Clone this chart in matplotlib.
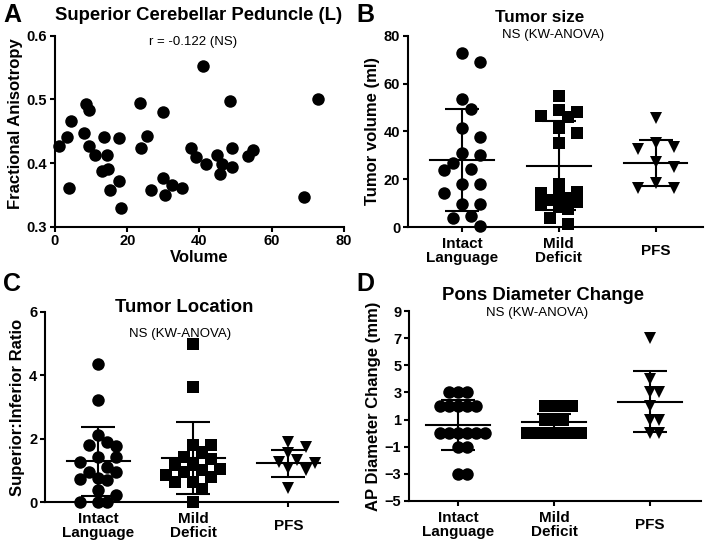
import numpy as np
import matplotlib
matplotlib.use("Agg")
import matplotlib.pyplot as plt

plt.rcParams['font.family'] = ['Liberation Sans', 'DejaVu Sans']

# ---- data ----
# A: scatter
volume = [1.2, 3.4, 4.0, 4.5, 7.9, 8.6, 9.4, 9.3, 11.1, 13.5, 13.0, 14.3, 14.6, 15.3,
          17.6, 17.7, 18.2, 23.6, 23.7, 25.5, 26.7, 30.0, 30.0, 30.4, 32.4, 35.2,
          41.0, 37.7, 38.9, 41.7, 44.9, 45.7, 46.3, 48.4, 48.9, 49.1, 53.4, 54.7,
          69.0, 72.8]
fa = [0.427, 0.441, 0.360, 0.466, 0.447, 0.493, 0.484, 0.426, 0.413, 0.441, 0.388,
      0.412, 0.390, 0.357, 0.371, 0.440, 0.330, 0.494, 0.424, 0.443, 0.357, 0.480,
      0.376, 0.349, 0.366, 0.361, 0.553, 0.424, 0.409, 0.399, 0.413, 0.383, 0.398,
      0.497, 0.424, 0.394, 0.411, 0.421, 0.347, 0.500]

groups = ["Intact\nLanguage", "Mild\nDeficit", "PFS"]

# B: tumor volume
size_intact = [72.6, 68.9, 53.4, 49.2, 41.3, 37.8, 30.1, 30.8, 26.6, 24.1, 23.8,
               17.8, 18.0, 14.4, 9.8, 9.8, 4.6, 3.8, 0.4]
size_mild = [54.9, 48.2, 48.9, 46.1, 46.5, 41.5, 39.2, 35.3, 17.8, 14.5, 14.1, 13.4,
             12.0, 11.3, 10.6, 9.2, 8.5, 7.4, 3.6, 1.3]
size_pfs = [45.4, 35.0, 33.6, 32.5, 27.3, 25.2, 18.5, 16.2, 16.2]
size_mean = [28.0, 25.6, 26.8]
size_sd = [21.3, 18.6, 9.7]

# C: superior:inferior ratio
loc_intact = [4.37, 3.21, 2.11, 1.89, 1.77, 1.79, 1.42, 1.42, 1.26, 1.11, 0.95, 0.95,
              0.74, 0.76, 0.68, 0.37, 0.21, 0.0, 0.0, 0.0]
loc_mild = [5.0, 3.63, 1.79, 1.79, 1.58, 1.42, 1.37, 1.16, 1.16, 1.05, 0.95, 1.0,
            0.84, 0.79, 0.63, 0.63, 0.42, 0.0]
loc_pfs = [1.90, 1.75, 1.54, 1.27, 1.33, 1.22, 1.01, 1.06, 0.43]
loc_mean = [1.28, 1.38, 1.22]
loc_sd = [1.10, 1.14, 0.42]

# D: AP diameter change
pons_intact = [3, 3, 3, 2, 2, 2, 2, 2, 0, 0, 0, 0, 0, 0, -1, -1, -3, -3]
pons_mild = [2, 2, 2, 2, 1, 1, 1, 0, 0, 0, 0, 0, 0, 0]
pons_pfs = [7, 4, 3, 3, 2, 1, 1, 0, 0]
pons_mean = [0.6, 0.78, 2.33]
pons_sd = [1.84, 0.6, 2.24]

TICK_FS = 10.5
LABEL_FS = 12
CAT_FS = 11
SUB_FS = 9.5
MARKERS = [('o', 9.0), ('s', 8.3), ('v', 8.8)]


def style(ax):
    for s in ['top', 'right']:
        ax.spines[s].set_visible(False)
    for s in ['left', 'bottom']:
        ax.spines[s].set_linewidth(1.5)
    ax.tick_params(width=1.5, length=3.5, labelsize=TICK_FS, pad=2)
    for lab in ax.get_xticklabels() + ax.get_yticklabels():
        lab.set_fontweight('bold')


def swarm(ax, vals, step_px, min_px, kmax):
    # column scatter: spread points sideways in steps, limited to +-kmax steps
    ypx = [ax.transData.transform((0, v))[1] for v in vals]
    xunit = ax.transData.transform((1, 0))[0] - ax.transData.transform((0, 0))[0]
    ks = sorted(range(-kmax, kmax + 1), key=lambda k: (abs(k), -k))
    placed = []
    offs = np.zeros(len(vals))
    for i in np.argsort(vals)[::-1]:
        best, best_d = 0, -1
        for k in ks:
            dx = k * step_px
            d = min([np.hypot(dx - px, ypx[i] - py) for px, py in placed] or [1e9])
            if d >= min_px:
                best = k
                break
            if d > best_d:
                best, best_d = k, d
        placed.append((best * step_px, ypx[i]))
        offs[i] = best * step_px / xunit
    return offs


def dotplot(ax, data, means, sds, step_px, min_px, kmax):
    for i, (vals, (m, ms)) in enumerate(zip(data, MARKERS)):
        offs = swarm(ax, vals, step_px, min_px, kmax[i])
        ax.plot(i + offs, vals, m, color='black', ms=ms, mew=0, clip_on=False, zorder=3)
        ax.plot([i - 0.33, i + 0.33], [means[i]] * 2, color='black', lw=1.5, zorder=4)
        ax.errorbar(i, means[i], yerr=sds[i], fmt='none', ecolor='black',
                    elinewidth=1.5, capsize=12.5, capthick=1.5, zorder=4)
    ax.set_xticks(range(3))
    ax.set_xticklabels(groups, fontsize=CAT_FS, fontweight='bold', va='center',
                       linespacing=1.0)


fig = plt.figure(figsize=(7.06, 5.44), dpi=100)

# ---- A ----
axA = fig.add_axes([0.0779, 0.5833, 0.4093, 0.3511])
axA.plot(volume, fa, 'o', color='black', ms=9.0, mew=0, clip_on=False)
axA.set_xlim(0, 80)
axA.set_ylim(0.3, 0.6)
axA.set_xticks([0, 20, 40, 60, 80])
axA.set_yticks([0.3, 0.4, 0.5, 0.6])
axA.set_xlabel("Volume", fontsize=LABEL_FS, fontweight='bold', labelpad=1)
axA.set_ylabel("Fractional Anisotropy", fontsize=LABEL_FS, fontweight='bold')
axA.yaxis.set_label_coords(-0.11, 0.54)
style(axA)
fig.text(199 / 706, 1 - 16 / 544, "Superior Cerebellar Peduncle (L)", fontsize=13.3,
         fontweight='bold', ha='center', va='center')
fig.text(193 / 706, 1 - 42 / 544, "r = -0.122 (NS)", fontsize=SUB_FS, ha='center', va='center')
fig.text(3 / 706, 1 - 15 / 544, "A", fontsize=18, fontweight='bold', ha='left', va='center')

# ---- B ----
axB = fig.add_axes([0.5779, 0.5827, 0.4178, 0.3517])
axB.set_xlim(-0.56, 2.49)
axB.set_ylim(0, 80)
axB.set_yticks([0, 20, 40, 60, 80])
dotplot(axB, [size_intact, size_mild, size_pfs], size_mean, size_sd, 9, 13, [2, 2, 2])
axB.set_ylabel("Tumor volume (ml)", fontsize=LABEL_FS, fontweight='bold', labelpad=3)
style(axB)
axB.tick_params(axis='x', pad=14, labelsize=CAT_FS)
fig.text(540 / 706, 1 - 17 / 544, "Tumor size", fontsize=12.3, fontweight='bold',
         ha='center', va='center')
fig.text(553 / 706, 1 - 35 / 544, "NS (KW-ANOVA)", fontsize=SUB_FS, ha='center', va='center')
fig.text(356 / 706, 1 - 15 / 544, "B", fontsize=18, fontweight='bold', ha='left', va='center')

# ---- C ----
axC = fig.add_axes([0.0637, 0.0772, 0.4150, 0.3493])
axC.set_xlim(-0.56, 2.52)
axC.set_ylim(0, 6)
axC.set_yticks([0, 2, 4, 6])
dotplot(axC, [loc_intact, loc_mild, loc_pfs], loc_mean, loc_sd, 9, 11, [2, 3, 3])
axC.set_ylabel("Superior:Inferior Ratio", fontsize=LABEL_FS, fontweight='bold', labelpad=3)
style(axC)
axC.tick_params(axis='x', pad=14, labelsize=CAT_FS)
fig.text(184 / 706, 1 - 307 / 544, "Tumor Location", fontsize=13.3, fontweight='bold',
         ha='center', va='center')
fig.text(180 / 706, 1 - 334 / 544, "NS (KW-ANOVA)", fontsize=SUB_FS, ha='center', va='center')
fig.text(3 / 706, 1 - 284 / 544, "C", fontsize=18, fontweight='bold', ha='left', va='center')

# ---- D ----
axD = fig.add_axes([0.5793, 0.0796, 0.4136, 0.3482])
axD.set_xlim(-0.51, 2.53)
axD.set_ylim(-5, 9)
axD.set_yticks([-5, -3, -1, 1, 3, 5, 7, 9])
dotplot(axD, [pons_intact, pons_mild, pons_pfs], pons_mean, pons_sd, 9, 9, [3, 3, 3])
axD.set_ylabel("AP Diameter Change (mm)", fontsize=LABEL_FS, fontweight='bold', labelpad=3)
style(axD)
axD.tick_params(axis='x', pad=14, labelsize=CAT_FS)
fig.text(543 / 706, 1 - 295 / 544, "Pons Diameter Change", fontsize=13.3, fontweight='bold',
         ha='center', va='center')
fig.text(537 / 706, 1 - 313 / 544, "NS (KW-ANOVA)", fontsize=SUB_FS, ha='center', va='center')
fig.text(356 / 706, 1 - 284 / 544, "D", fontsize=18, fontweight='bold', ha='left', va='center')

fig.savefig("out.png", dpi=100)
